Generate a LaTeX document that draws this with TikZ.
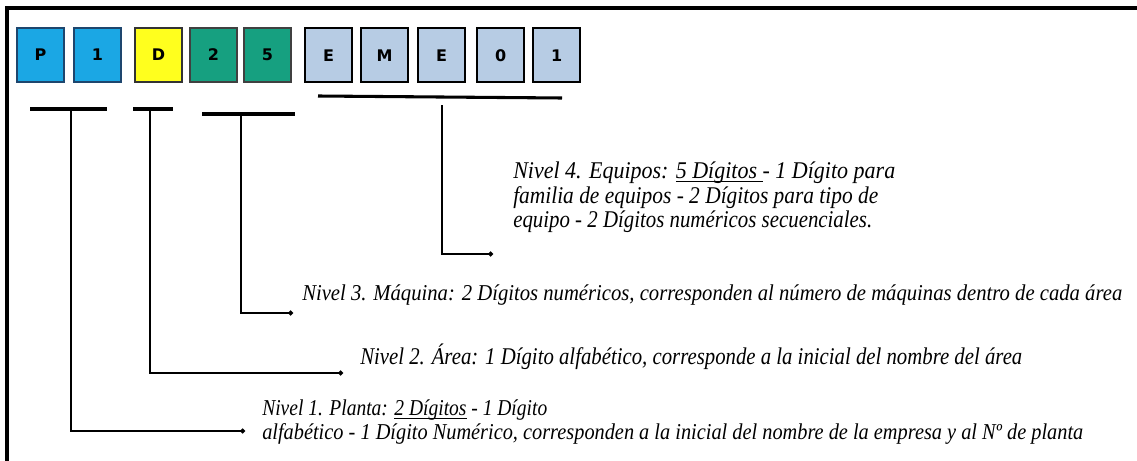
\documentclass[tikz,border=0pt]{standalone}
\usepackage{fontspec}
\usepackage{graphicx}
\usetikzlibrary{arrows.meta}
\setmainfont{Liberation Serif}
\newfontfamily\boxfont{DejaVu Sans}
\newlength\pxu
\setlength\pxu{0.75pt}
\newcommand\fitw[2]{\resizebox{#1\pxu}{\height}{#2}}
\newcommand\ulx[1]{\setbox0\hbox{#1}\rlap{\rule[-2.6pt]{\wd0}{0.7pt}}\box0\relax}
\definecolor{skyb}{RGB}{27,167,228}
\definecolor{skybd}{RGB}{30,70,110}
\definecolor{yelb}{RGB}{255,255,30}
\definecolor{tealb}{RGB}{22,160,128}
\definecolor{paleb}{RGB}{183,204,228}
\begin{document}
\begin{tikzpicture}[x=0.75pt,y=-0.75pt,
  digit/.style={draw, line width=1.4pt, minimum width=35.25pt, minimum height=40.5pt, inner sep=0pt, anchor=north west, font=\boxfont\bfseries\fontsize{12}{14}\selectfont},
  cyanbox/.style={digit, fill=skyb, draw=skybd},
  yelbox/.style={digit, fill=yelb, draw=black!80},
  tealbox/.style={digit, fill=tealb, draw=black!75},
  palebox/.style={digit, fill=paleb, draw=black, line width=1.8pt},
  bar/.style={line width=2.3pt},
  conn/.style={line width=1.7pt, -{Circle[length=3.5pt]}},
  lbl/.style={anchor=base west, inner sep=0pt, font=\itshape\fontsize{#1}{#1}\selectfont},
  lbl/.default=15
]
\useasboundingbox (0,0) rectangle (1137,460);
\draw[line width=2.4pt] (7,480) -- (7,8) -- (1160,8);

% digit boxes
\node[cyanbox] (b1) at (16,27) {P};
\node[cyanbox] (b2) at (73,27) {1};
\node[yelbox]  (b3) at (134,27) {D};
\node[tealbox] (b4) at (189,27) {2};
\node[tealbox] (b5) at (243,27) {5};
\node[palebox] (b6) at (304,27) {E};
\node[palebox] (b7) at (360,27) {M};
\node[palebox] (b8) at (417,27) {E};
\node[palebox] (b9) at (476,27) {0};
\node[palebox] (b10) at (532,27) {1};

% group bars
\coordinate (bar1w) at (30,109);  \coordinate (bar1e) at (107,109); \coordinate (bar1m) at (71,109);
\coordinate (bar2w) at (133,109); \coordinate (bar2e) at (173,109); \coordinate (bar2m) at (150,109);
\coordinate (bar3w) at (202,114); \coordinate (bar3e) at (295,114); \coordinate (bar3m) at (241,114);
\coordinate (bar4w) at (318,96);  \coordinate (bar4e) at (562,98);  \coordinate (bar4m) at (442,105);
\draw[bar] (bar1w) -- (bar1e);
\draw[bar] (bar2w) -- (bar2e);
\draw[bar] (bar3w) -- (bar3e);
\draw[bar] (bar4w) -- (bar4e);

% labels
\node[lbl=18] (l4a) at (513,178) {\fitw{382}{Nivel 4. Equipos: \ulx{5 Dígitos }- 1 Dígito para}};
\node[lbl=18] (l4b) at (513,203) {\fitw{365}{familia de equipos - 2 Dígitos para tipo de}};
\node[lbl=18] (l4c) at (513,227) {\fitw{359}{equipo - 2 Dígitos numéricos secuenciales.}};
\node[lbl=17] (l3) at (302,300) {\fitw{820}{Nivel 3. Máquina: 2 Dígitos numéricos, corresponden al número de máquinas dentro de cada área}};
\node[lbl=18] (l2) at (360,364) {\fitw{662}{Nivel 2. Área: 1 Dígito alfabético, corresponde a la inicial del nombre del área}};
\node[lbl=17] (l1a) at (262,415) {\fitw{285}{Nivel 1. Planta: \ulx{2 Dígitos} - 1 Dígito}};
\node[lbl=17] (l1b) at (262,439) {\fitw{821}{alfabético - 1 Dígito Numérico, corresponden a la inicial del nombre de la empresa y al Nº de planta}};

% connectors
\coordinate (end4) at (493,254);
\coordinate (end3) at (293,313);
\coordinate (end2) at (343,373);
\coordinate (end1) at (245,431);
\draw[conn, line width=2pt] (bar4m) |- (end4);
\draw[conn, line width=1.9pt] (bar3m) |- (end3);
\draw[conn, line width=2.1pt] (bar2m) |- (end2);
\draw[conn, line width=1.4pt] (bar1m) |- (end1);
\end{tikzpicture}
\end{document}
